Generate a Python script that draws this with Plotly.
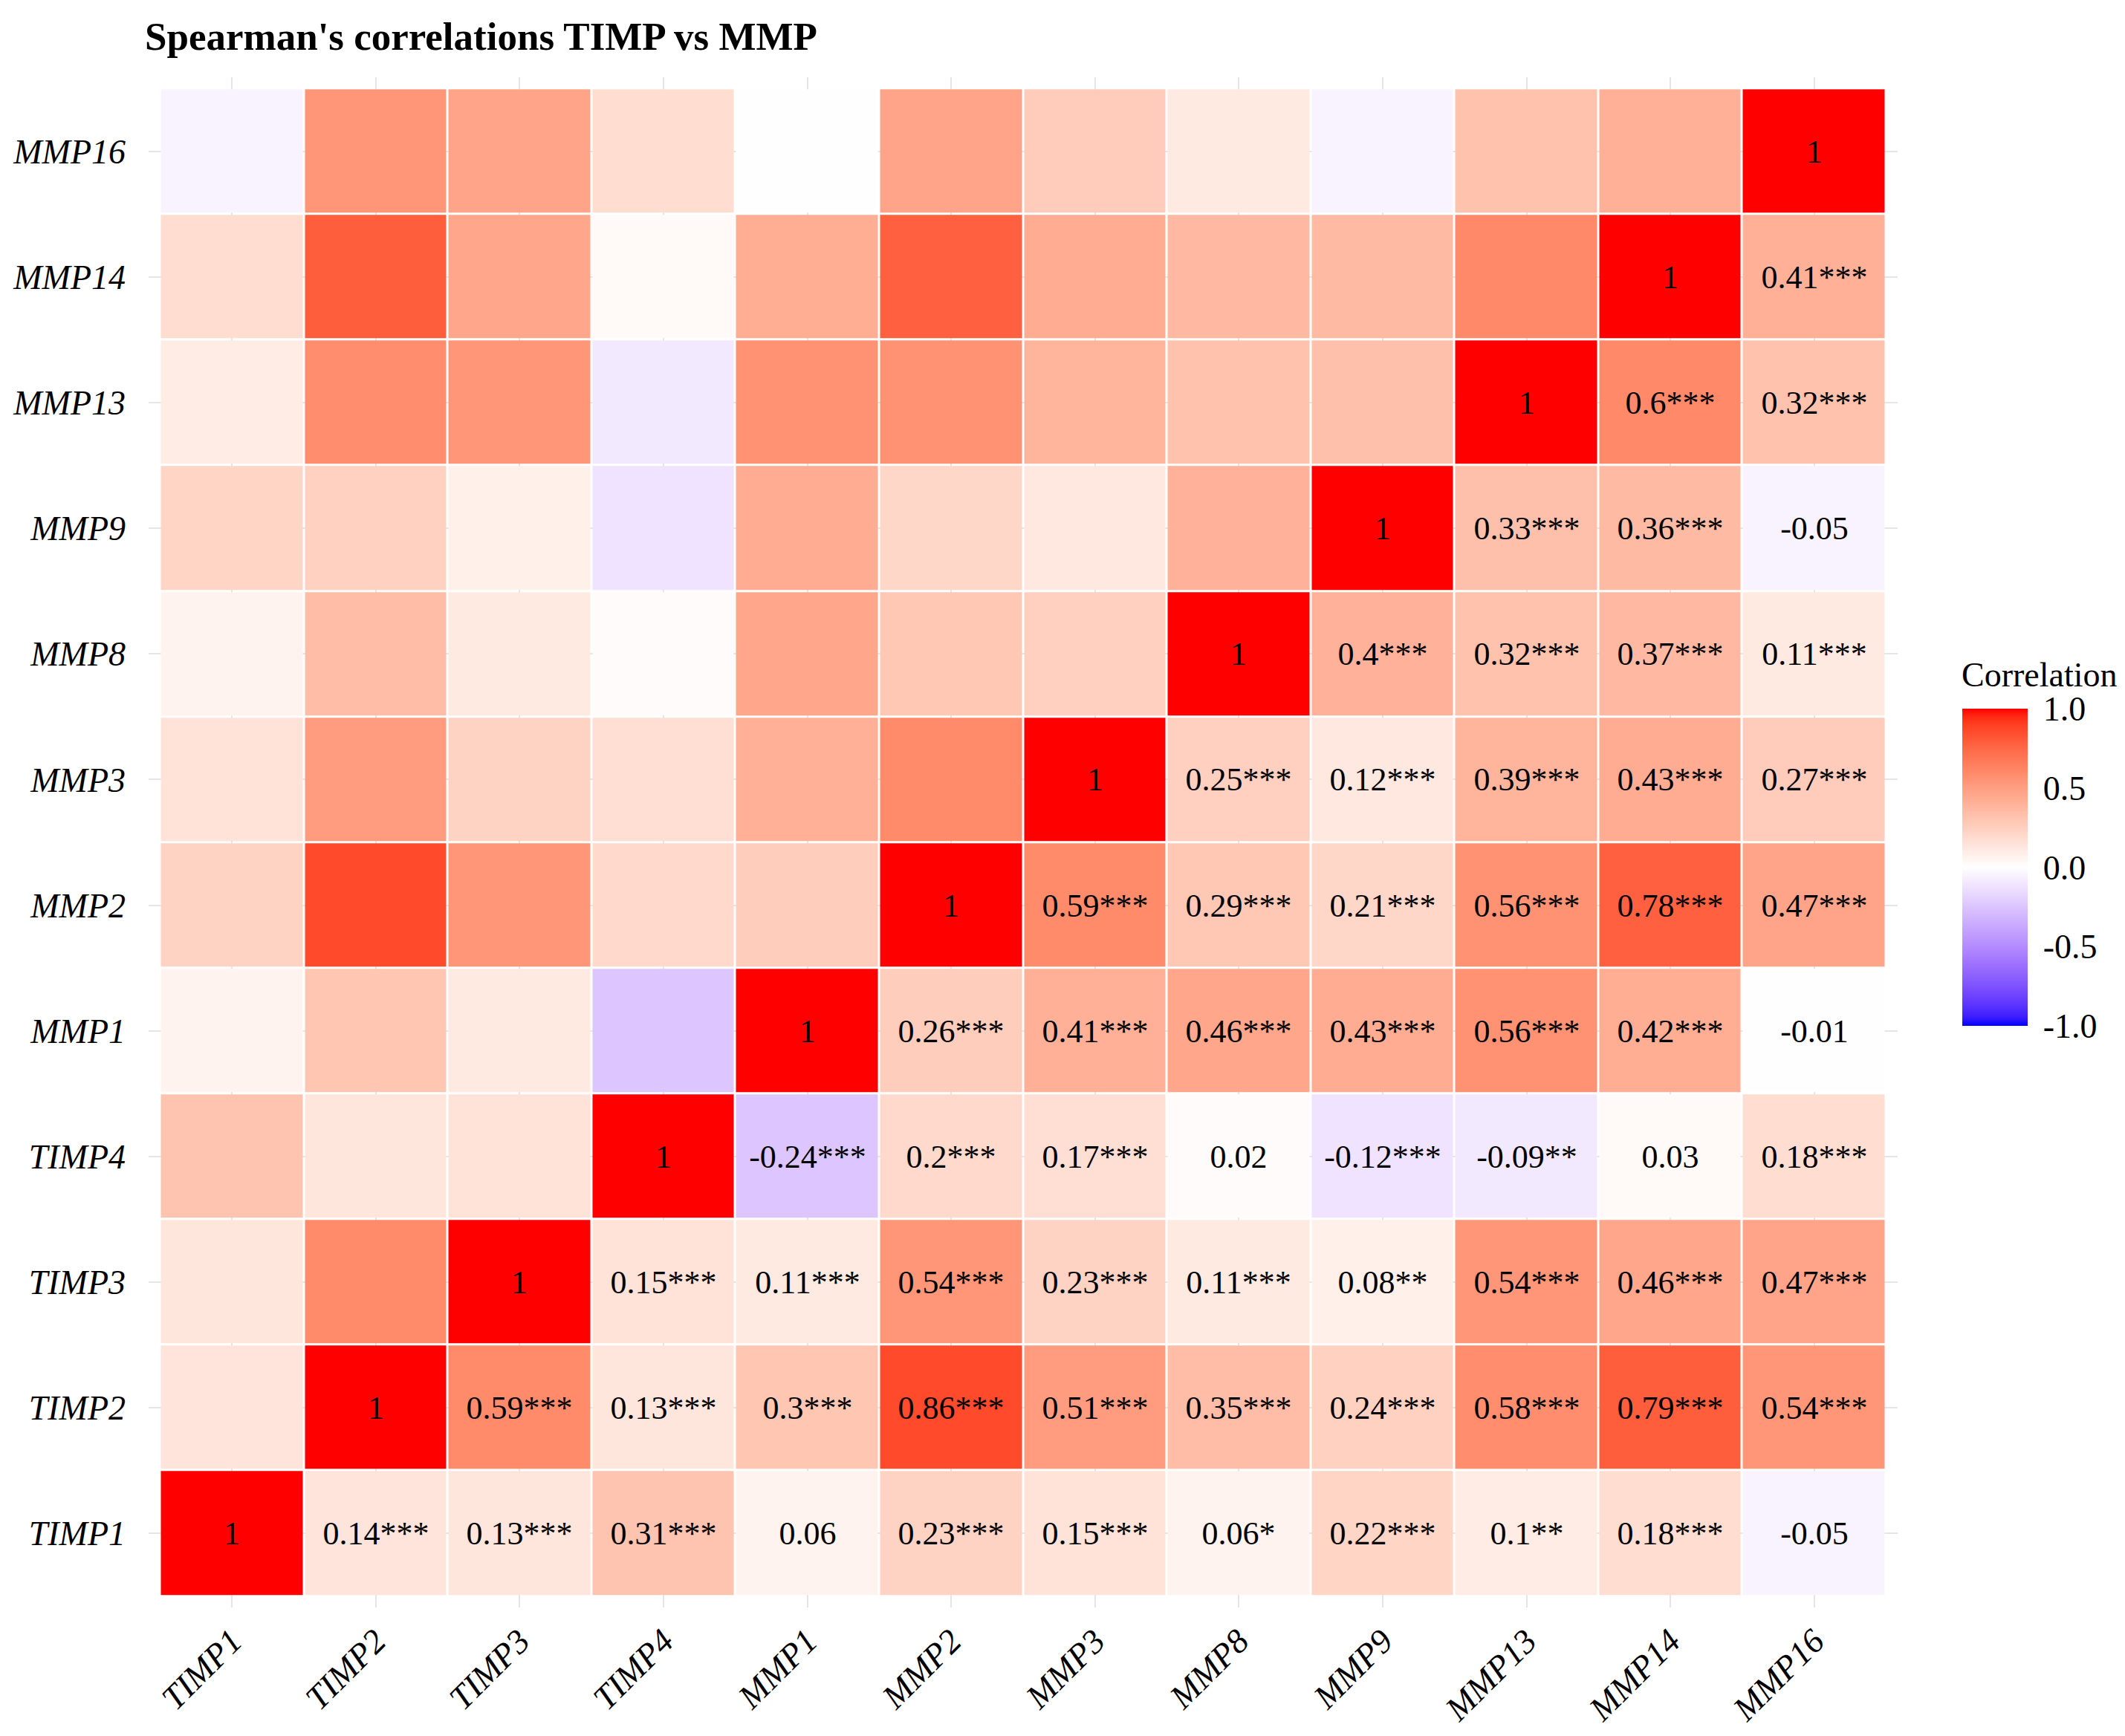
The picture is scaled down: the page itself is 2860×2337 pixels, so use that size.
import numpy as np
import plotly.graph_objects as go

genes = ["TIMP1", "TIMP2", "TIMP3", "TIMP4", "MMP1", "MMP2", "MMP3",
         "MMP8", "MMP9", "MMP13", "MMP14", "MMP16"]

# Lower-right triangle labels, row by row (row gene vs genes from the diagonal onward)
row_TIMP1 = ["1", "0.14***", "0.13***", "0.31***", "0.06", "0.23***", "0.15***", "0.06*", "0.22***", "0.1**", "0.18***", "-0.05"]
row_TIMP2 = ["1", "0.59***", "0.13***", "0.3***", "0.86***", "0.51***", "0.35***", "0.24***", "0.58***", "0.79***", "0.54***"]
row_TIMP3 = ["1", "0.15***", "0.11***", "0.54***", "0.23***", "0.11***", "0.08**", "0.54***", "0.46***", "0.47***"]
row_TIMP4 = ["1", "-0.24***", "0.2***", "0.17***", "0.02", "-0.12***", "-0.09**", "0.03", "0.18***"]
row_MMP1 = ["1", "0.26***", "0.41***", "0.46***", "0.43***", "0.56***", "0.42***", "-0.01"]
row_MMP2 = ["1", "0.59***", "0.29***", "0.21***", "0.56***", "0.78***", "0.47***"]
row_MMP3 = ["1", "0.25***", "0.12***", "0.39***", "0.43***", "0.27***"]
row_MMP8 = ["1", "0.4***", "0.32***", "0.37***", "0.11***"]
row_MMP9 = ["1", "0.33***", "0.36***", "-0.05"]
row_MMP13 = ["1", "0.6***", "0.32***"]
row_MMP14 = ["1", "0.41***"]
row_MMP16 = ["1"]

rows = [row_TIMP1, row_TIMP2, row_TIMP3, row_TIMP4, row_MMP1, row_MMP2,
        row_MMP3, row_MMP8, row_MMP9, row_MMP13, row_MMP14, row_MMP16]

colorbar_ticks = [-1.0, -0.5, 0.0, 0.5, 1.0]
colorbar_ticktext = ["-1.0", "-0.5", "0.0", "0.5", "1.0"]

n = len(genes)
z = np.zeros((n, n))
txt = [["" for _ in range(n)] for _ in range(n)]
for i, r in enumerate(rows):
    for k, lab in enumerate(r):
        j = i + k
        v = float(lab.replace("*", ""))
        z[i][j] = v
        z[j][i] = v
        txt[i][j] = lab

# ---- Lab-space diverging colour scale (blue - white - red) ----
def srgb_to_lin(c):
    c = np.asarray(c, float)
    return np.where(c <= 0.04045, c / 12.92, ((c + 0.055) / 1.055) ** 2.4)

def lin_to_srgb(c):
    c = np.clip(c, 0, 1)
    return np.where(c <= 0.0031308, 12.92 * c, 1.055 * c ** (1 / 2.4) - 0.055)

M = np.array([[0.4124, 0.3576, 0.1805], [0.2126, 0.7152, 0.0722], [0.0193, 0.1192, 0.9505]])
Minv = np.linalg.inv(M)
WHITE = np.array([0.95047, 1.0, 1.08883])

def f(t):
    d = 6 / 29
    return np.where(t > d ** 3, np.cbrt(t), t / (3 * d * d) + 4 / 29)

def finv(t):
    d = 6 / 29
    return np.where(t > d, t ** 3, 3 * d * d * (t - 4 / 29))

def rgb_to_lab(rgb):
    xyz = M @ srgb_to_lin(np.array(rgb) / 255.0) / WHITE
    fx, fy, fz = f(xyz)
    return np.array([116 * fy - 16, 500 * (fx - fy), 200 * (fy - fz)])

def lab_to_rgb(lab):
    L, a, b = lab
    fy = (L + 16) / 116
    fx = fy + a / 500
    fz = fy - b / 200
    xyz = np.array([finv(fx), finv(fy), finv(fz)]) * WHITE
    rgb = lin_to_srgb(Minv @ xyz)
    return "rgb(%d,%d,%d)" % tuple(np.round(np.clip(rgb, 0, 1) * 255).astype(int))

lab_blue = rgb_to_lab([0, 0, 255])
lab_white = rgb_to_lab([255, 255, 255])
lab_red = rgb_to_lab([255, 0, 0])
colorscale = []
steps = 20
for s in range(steps + 1):
    t = s / steps
    colorscale.append([0.5 * t, lab_to_rgb(lab_blue + (lab_white - lab_blue) * t)])
for s in range(1, steps + 1):
    t = s / steps
    colorscale.append([0.5 + 0.5 * t, lab_to_rgb(lab_white + (lab_red - lab_white) * t)])

FONT = "Liberation Serif, Times New Roman, serif"
W, H = 2860, 2337
ML, MR, MT, MB = 192, 314, 96, 181
PW, PH = W - ML - MR, H - MT - MB

def px_x(x):  # figure pixel -> paper x
    return (x - ML) / PW

def px_y(y):  # figure pixel (from top) -> paper y
    return (H - MB - y) / PH

fig = go.Figure(go.Heatmap(
    z=z, x=list(range(n)), y=list(range(n)),
    text=txt, texttemplate="%{text}",
    textfont=dict(family=FONT, size=44, color="black"),
    colorscale=colorscale, zmin=-1, zmax=1,
    xgap=3, ygap=3, hoverinfo="skip",
    colorbar=dict(
        tickvals=colorbar_ticks, ticktext=colorbar_ticktext,
        tickfont=dict(family=FONT, size=46, color="black"),
        thickness=88, thicknessmode="pixels", len=427, lenmode="pixels",
        x=px_x(2633), xanchor="left", xpad=0,
        y=px_y(1159.5), yanchor="middle", ypad=0,
        outlinewidth=0, ticks="outside", ticklen=12, tickcolor="white", tickwidth=1,
    ),
))

axis_common = dict(
    showgrid=True, gridcolor="#E5E5E5", gridwidth=2, zeroline=False,
    showline=False, ticks="", tickmode="array", tickvals=list(range(n)),
    ticktext=["<i>%s</i>" % g for g in genes], automargin=False,
)
fig.update_xaxes(**axis_common, range=[-0.58, n - 0.42], tickangle=-45,
                 tickfont=dict(family=FONT, size=46, color="black"),
                 ticklabelstandoff=8)
fig.update_yaxes(**axis_common, range=[-0.59, n - 0.41],
                 tickfont=dict(family=FONT, size=46, color="black"),
                 ticklabelstandoff=30)

fig.update_layout(
    width=W, height=H,
    paper_bgcolor="white", plot_bgcolor="white",
    margin=dict(l=ML, r=MR, t=MT, b=MB, autoexpand=False),
    title=dict(text="<b>Spearman's correlations TIMP vs MMP</b>",
               font=dict(family=FONT, size=53, color="black"),
               xref="container", x=187 / W, xanchor="left",
               yref="container", y=1 - 40 / H, yanchor="middle"),
    annotations=[dict(
        text="Correlation", xref="paper", yref="paper",
        x=px_x(2630), y=px_y(900),
        xanchor="left", yanchor="middle", showarrow=False,
        font=dict(family=FONT, size=46, color="black"),
    )],
)

fig.write_html("out.html", config={"displayModeBar": False})
